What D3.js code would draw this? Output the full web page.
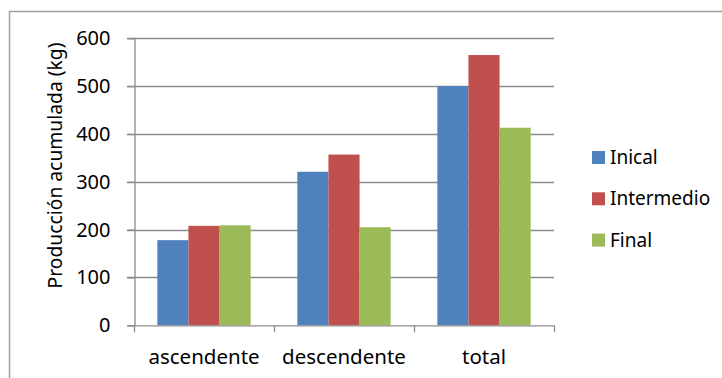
<!DOCTYPE html>
<html>
<head>
<meta charset="utf-8">
<script src="https://cdn.jsdelivr.net/npm/d3@7"></script>
<style>
  html, body { margin: 0; padding: 0; background: #fff; }
  svg { display: block; font-family: "Noto Sans", "Open Sans", sans-serif; }
</style>
</head>
<body>
<svg id="chart" width="722" height="378"></svg>
<script>
// Accumulated production per slope position and sampling stage
const categories = ["ascendente", "descendente", "total"];
const seriesNames = ["Inical", "Intermedio", "Final"];
const inicial = [178, 321, 500];
const intermedio = [208, 357, 565];
const final = [209, 205, 413];
const yTicks = [0, 100, 200, 300, 400, 500, 600];
const yTitle = "Producción acumulada (kg)";

const seriesValues = [inicial, intermedio, final];
const colors = ["#4F81BD", "#C0504D", "#9BBB59"];

const svg = d3.select("#chart");
const W = 722, H = 378;

// outer chart frame (extends past the right and bottom edges)
svg.append("rect")
  .attr("x", 9.5).attr("y", 11.5)
  .attr("width", W + 20).attr("height", H + 20)
  .attr("fill", "#fff").attr("stroke", "#a0a0a0").attr("stroke-width", 1.5);

const plot = { left: 134, right: 554, top: 38.3, bottom: 325.3 };

const x0 = d3.scaleBand().domain(categories)
  .range([plot.left, plot.right]).paddingInner(0).paddingOuter(0);
// Excel-style 150% gap: group occupies 3 bars out of 4.5 bar widths
const x1 = d3.scaleBand().domain(seriesNames)
  .range([0, x0.bandwidth()]).paddingInner(0).paddingOuter(0.75);
const y = d3.scaleLinear().domain([0, 600]).range([plot.bottom, plot.top]);

// gridlines
svg.append("g").selectAll("line").data(yTicks.filter(d => d > 0)).join("line")
  .attr("x1", plot.left - 7).attr("x2", plot.right)
  .attr("y1", d => Math.round(y(d)) + 0.5).attr("y2", d => Math.round(y(d)) + 0.5)
  .attr("stroke", "#8c8c8c").attr("stroke-width", 1.3);

// bars
const groups = svg.append("g").selectAll("g").data(categories).join("g")
  .attr("transform", c => `translate(${x0(c)},0)`);
groups.selectAll("rect")
  .data((c, i) => seriesNames.map((s, k) => ({ s, k, v: seriesValues[k][i] })))
  .join("rect")
  .attr("x", d => x1(d.s))
  .attr("width", x1.bandwidth())
  .attr("y", d => y(d.v))
  .attr("height", d => y(0) - y(d.v))
  .attr("fill", d => colors[d.k]);

// y axis
const yAxis = svg.append("g")
  .attr("transform", `translate(${plot.left + 0.5},0)`)
  .call(d3.axisLeft(y).tickValues(yTicks).tickSize(7).tickPadding(17).tickSizeOuter(0));
yAxis.select(".domain").attr("stroke", "#8c8c8c").attr("stroke-width", 1.3);
yAxis.selectAll(".tick line").attr("stroke", "#8c8c8c").attr("stroke-width", 1.3);
yAxis.selectAll(".tick text").attr("font-size", 20).attr("fill", "#000")
  .attr("font-family", '"Noto Sans", sans-serif');

// x axis
const xAxis = svg.append("g")
  .attr("transform", `translate(0,${plot.bottom})`)
  .call(d3.axisBottom(x0).tickSize(0).tickPadding(24).tickSizeOuter(0));
xAxis.select(".domain").attr("stroke", "#8c8c8c").attr("stroke-width", 1.3)
  .attr("d", `M${plot.left - 7},0.5H${plot.right}`);
xAxis.selectAll(".tick text").attr("font-size", 20.5).attr("fill", "#000")
  .attr("font-family", '"Noto Sans", sans-serif');
// category boundary tick marks
const bounds = categories.map(c => x0(c)).concat([plot.right]);
xAxis.append("g").selectAll("line").data(bounds).join("line")
  .attr("x1", d => Math.round(d) + 0.5).attr("x2", d => Math.round(d) + 0.5)
  .attr("y1", 0).attr("y2", 7)
  .attr("stroke", "#8c8c8c").attr("stroke-width", 1.3);

// y axis title
svg.append("text")
  .attr("transform", `translate(62,165.5) rotate(-90)`)
  .attr("text-anchor", "middle")
  .attr("font-size", 19.3).attr("fill", "#000")
  .text(yTitle);

// legend
const legend = svg.append("g").attr("transform", "translate(592,151)");
const items = legend.selectAll("g").data(seriesNames).join("g")
  .attr("transform", (d, i) => `translate(0,${i * 41.3})`);
items.append("rect").attr("width", 13).attr("height", 13)
  .attr("fill", (d, i) => colors[i]);
items.append("text").attr("x", 18).attr("y", 13)
  .attr("font-size", 19).attr("fill", "#000").text(d => d);
</script>
</body>
</html>
